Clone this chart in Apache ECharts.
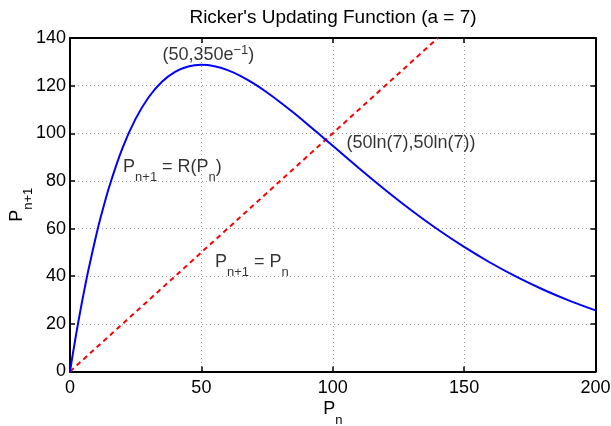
<!DOCTYPE html>
<html>
<head>
<meta charset="utf-8">
<script src="https://cdn.jsdelivr.net/npm/echarts@6/dist/echarts.min.js"></script>
<style>
  html, body { margin: 0; padding: 0; background: #fff; }
  #chart { width: 611px; height: 426px; }
</style>
</head>
<body>
<div id="chart"></div>
<script>
// values
const pn = [0, 1, 2, 3, 4, 5, 7, 10, 12, 15, 20, 25, 30, 35, 40, 45, 50, 55, 60, 65, 70, 75, 80, 85, 90, 95, 100, 110, 120, 130, 140, 150, 160, 170, 180, 190, 200];
const pNext = [0, 6.86, 13.45, 19.78, 25.85, 31.67, 42.6, 57.31, 66.08, 77.79, 93.85, 106.14, 115.25, 121.66, 125.81, 128.07, 128.76, 128.15, 126.5, 124.0, 120.83, 117.14, 113.06, 108.7, 104.14, 99.46, 94.73, 85.32, 76.2, 67.59, 59.59, 52.28, 45.65, 39.71, 34.43, 29.75, 25.64];
const diagX = [0, 140];
const diagY = [0, 140];

// text notes (left edge, vertical middle)
const noteX = [35, 105, 20, 55];
const noteY = [133, 96, 86, 46];
const noteText = [
  '{m|(50,350e}{sup|\u22121}{m|)}',
  '{m|(50ln(7),50ln(7))}',
  '{m|P}{sub|n+1}{m| = R(P}{sub|n}{m|)}',
  '{m|P}{sub|n+1}{m| = P}{sub|n}'
];
const xTitle = '{m|P}{sub|n}';
const yTitle = '{m|P}{sub|n+1}';

const font = 'Liberation Sans, Arial, Helvetica, sans-serif';
const rich = {
  m: { fontSize: 18, lineHeight: 18, fontFamily: font, color: '#000' },
  sub: { fontSize: 13, lineHeight: 13, padding: [22, 0, 0, 0], fontFamily: font, color: '#000' },
  sup: { fontSize: 13, lineHeight: 13, padding: [0, 0, 9, 0], fontFamily: font, color: '#000' }
};

const chart = echarts.init(document.getElementById('chart'));

// plain axis pieces, shared by the four sides of the box
function axisLine() {
  return { show: true, onZero: false, lineStyle: { color: '#000', width: 2 } };
}
function axisTick() {
  return { show: true, inside: true, length: 5, lineStyle: { color: '#000', width: 1.5 } };
}
function gridLine() {
  return { show: true, lineStyle: { color: '#999', width: 1, type: [1, 3] } };
}

chart.setOption({
  animation: false,
  backgroundColor: '#fff',
  title: {
    text: "Ricker's Updating Function (a = 7)",
    left: 333,
    textAlign: 'center',
    top: 8,
    padding: 0,
    textStyle: { fontSize: 19, fontWeight: 'normal', color: '#000', fontFamily: font }
  },
  grid: { left: 70, right: 15.5, top: 38, bottom: 54.5, outerBoundsMode: 'none' },
  xAxis: [
    {
      type: 'value', min: 0, max: 200, interval: 50,
      axisLine: axisLine(),
      axisTick: axisTick(),
      axisLabel: { color: '#000', fontSize: 18, fontFamily: font, margin: 8 },
      splitLine: gridLine()
    },
    {
      type: 'value', min: 0, max: 200, interval: 50, position: 'top',
      axisLine: axisLine(), axisTick: axisTick(),
      axisLabel: { show: false }, splitLine: { show: false }
    }
  ],
  yAxis: [
    {
      type: 'value', min: 0, max: 140, interval: 20,
      axisLine: axisLine(),
      axisTick: axisTick(),
      axisLabel: { color: '#000', fontSize: 18, fontFamily: font, margin: 4 },
      splitLine: gridLine()
    },
    {
      type: 'value', min: 0, max: 140, interval: 20, position: 'right',
      axisLine: axisLine(), axisTick: axisTick(),
      axisLabel: { show: false }, splitLine: { show: false }
    }
  ],
  series: [
    {
      type: 'line',
      data: pn.map((x, i) => [x, pNext[i]]),
      smooth: 0.3,
      showSymbol: false,
      lineStyle: { color: '#0000ff', width: 2 },
      z: 3
    },
    {
      type: 'line',
      data: diagX.map((x, i) => [x, diagY[i]]),
      showSymbol: false,
      lineStyle: { color: '#ff0000', width: 2, type: [5, 4] },
      z: 2
    },
    {
      type: 'scatter',
      symbolSize: 1,
      itemStyle: { color: 'rgba(0,0,0,0)' },
      silent: true,
      data: noteX.map((x, i) => ({
        value: [x, noteY[i]],
        label: {
          show: true,
          position: 'right',
          distance: 0,
          color: '#000',
          formatter: noteText[i],
          rich: rich
        }
      })),
      z: 4
    }
  ]
});

// axis titles, set beside the middle of each axis
const xMid = chart.convertToPixel({ xAxisIndex: 0 }, 100);
const yMid = chart.convertToPixel({ yAxisIndex: 0 }, 70);
const xLine = chart.convertToPixel({ yAxisIndex: 0 }, 0);
const yLine = chart.convertToPixel({ xAxisIndex: 0 }, 0);
chart.setOption({
  graphic: [
    {
      type: 'text', x: xMid, y: xLine + 38, silent: true,
      style: { text: xTitle, rich: rich, align: 'center', verticalAlign: 'middle' }
    },
    {
      type: 'text', x: yLine - 53, y: yMid, rotation: Math.PI / 2, silent: true,
      style: { text: yTitle, rich: rich, align: 'center', verticalAlign: 'middle' }
    }
  ]
});
</script>
</body>
</html>
